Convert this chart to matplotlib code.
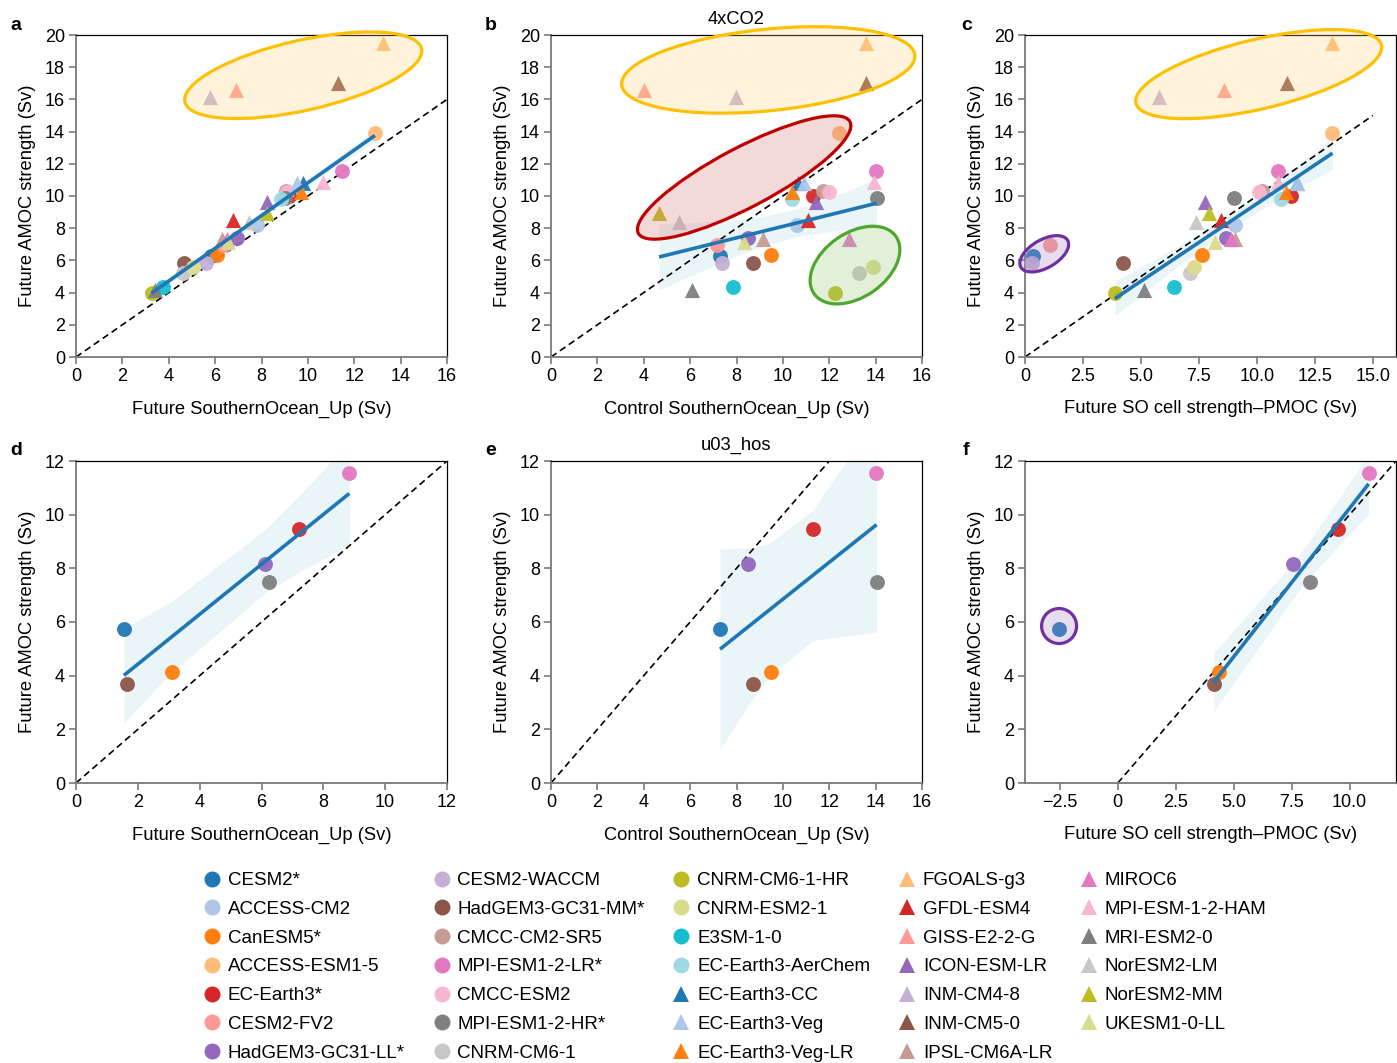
import numpy as np
import matplotlib
matplotlib.use("Agg")
import matplotlib.pyplot as plt
from matplotlib.patches import Ellipse
from matplotlib.lines import Line2D
from matplotlib.transforms import Affine2D
from matplotlib.colors import to_rgba

plt.rcParams['font.family'] = ['Liberation Sans', 'DejaVu Sans']
plt.rcParams['font.size'] = 13

# ---------------- data ----------------
models = ["CESM2*", "ACCESS-CM2", "CanESM5*", "ACCESS-ESM1-5", "EC-Earth3*", "CESM2-FV2",
          "HadGEM3-GC31-LL*", "CESM2-WACCM", "HadGEM3-GC31-MM*", "CMCC-CM2-SR5",
          "MPI-ESM1-2-LR*", "CMCC-ESM2", "MPI-ESM1-2-HR*", "CNRM-CM6-1", "CNRM-CM6-1-HR",
          "CNRM-ESM2-1", "E3SM-1-0", "EC-Earth3-AerChem", "EC-Earth3-CC", "EC-Earth3-Veg",
          "EC-Earth3-Veg-LR", "FGOALS-g3", "GFDL-ESM4", "GISS-E2-2-G", "ICON-ESM-LR",
          "INM-CM4-8", "INM-CM5-0", "IPSL-CM6A-LR", "MIROC6", "MPI-ESM-1-2-HAM",
          "MRI-ESM2-0", "NorESM2-LM", "NorESM2-MM", "UKESM1-0-LL"]
markers = ["o"] * 18 + ["^"] * 16
palette = ["#1f77b4", "#aec7e8", "#ff7f0e", "#ffbb78", "#d62728", "#ff9896", "#9467bd",
           "#c5b0d5", "#8c564b", "#c49c94", "#e377c2", "#f7b6d2", "#7f7f7f", "#c7c7c7",
           "#bcbd22", "#dbdb8d", "#17becf", "#9edae5"]
colors = palette + palette[:16]

# Future AMOC strength (4xCO2), Sv
amoc_4x = [6.27, 8.22, 6.36, 13.94, 10.02, 6.95, 7.42, 5.82, 5.85, 10.30,
           11.57, 10.23, 9.86, 5.22, 3.95, 5.57, 4.37, 9.81, 10.79, 10.82,
           10.25, 19.48, 8.50, 16.58, 9.65, 16.17, 17.04, 7.33, 7.33, 10.87,
           4.16, 8.40, 8.95, 7.16]
# Future SouthernOcean_Up (panel a)
so_up_future = [5.81, 7.82, 6.09, 12.89, 9.18, 6.38, 6.96, 5.61, 4.66, 9.04,
                11.48, 9.10, 9.01, 4.60, 3.26, 5.03, 3.74, 8.83, 9.80, 9.52,
                9.70, 13.22, 6.78, 6.90, 8.22, 5.78, 11.28, 6.28, 6.53, 10.66,
                3.40, 7.47, 8.24, 6.57]
# Control SouthernOcean_Up (panel b)
so_up_control = [7.29, 10.59, 9.49, 12.42, 11.28, 7.14, 8.51, 7.36, 8.72, 11.71,
                 14.00, 12.00, 14.04, 13.30, 12.25, 13.87, 7.83, 10.38, 10.67, 10.90,
                 10.41, 13.58, 11.07, 4.02, 11.45, 7.98, 13.60, 9.13, 12.86, 13.94,
                 6.08, 5.53, 4.66, 8.32]
# Future SO cell strength - PMOC (panel c)
so_pmoc_future = [0.33, 9.05, 7.62, 13.26, 11.47, 1.08, 8.66, 0.29, 4.24, 10.23,
                  10.89, 10.09, 9.01, 7.11, 3.88, 7.30, 6.42, 11.02, 11.75, 11.72,
                  11.24, 13.26, 8.45, 8.58, 7.77, 5.78, 11.28, 9.05, 8.87, 10.92,
                  5.14, 7.36, 7.95, 8.19]

# u03_hos experiment
hos_models = ["CESM2*", "CanESM5*", "EC-Earth3*", "HadGEM3-GC31-LL*", "HadGEM3-GC31-MM*",
              "MPI-ESM1-2-LR*", "MPI-ESM1-2-HR*"]
amoc_hos = [5.74, 4.15, 9.47, 8.16, 3.68, 11.54, 7.50]
so_up_future_hos = [1.55, 3.09, 7.21, 6.11, 1.64, 8.84, 6.25]
so_up_control_hos = [7.29, 9.49, 11.28, 8.51, 8.72, 14.00, 14.04]
so_pmoc_future_hos = [-2.53, 4.37, 9.50, 7.56, 4.14, 10.82, 8.31]

# models left out of each regression (highlighted by ellipses)
outliers_inm = ["FGOALS-g3", "GISS-E2-2-G", "INM-CM4-8", "INM-CM5-0"]
excl_a = outliers_inm
excl_b = outliers_inm
excl_c = outliers_inm + ["CESM2*", "CESM2-WACCM", "CESM2-FV2"]
excl_d = []
excl_e = []
excl_f = ["CESM2*"]

# ---------------- helpers ----------------
W, H = 1397, 1063
fig = plt.figure(figsize=(W / 100, H / 100), dpi=100)
LABEL_FS = 13.2
TICK_FS = 13


def make_ax(left, top):
    return fig.add_axes([left / W, 1 - (top + 322) / H, 371 / W, 322 / H])


def style(ax):
    for s in ["left", "bottom"]:
        ax.spines[s].set_color("#7a7a7a")
        ax.spines[s].set_linewidth(1.3)
    for s in ["top", "right"]:
        ax.spines[s].set_color("black")
        ax.spines[s].set_linewidth(0.9)
    ax.tick_params(direction="out", length=5, width=1.2, color="#7a7a7a",
                   labelsize=TICK_FS, pad=3)


def tval(df):
    z = 1.959964
    return (z + (z**3 + z) / (4 * df) + (5 * z**5 + 16 * z**3 + 3 * z) / (96 * df**2)
            + (3 * z**7 + 19 * z**5 + 17 * z**3 - 15 * z) / (384 * df**3))


def regress(ax, x, y, names, excl):
    x = np.asarray(x, float)
    y = np.asarray(y, float)
    keep = np.array([n not in excl for n in names])
    xs, ys = x[keep], y[keep]
    n = len(xs)
    b1, b0 = np.polyfit(xs, ys, 1)
    order = np.argsort(xs)
    xg = xs[order]
    yg = b0 + b1 * xg
    resid = ys - (b0 + b1 * xs)
    s = np.sqrt(np.sum(resid**2) / (n - 2))
    sxx = np.sum((xs - xs.mean())**2)
    se = s * np.sqrt(1 / n + (xg - xs.mean())**2 / sxx)
    t = tval(n - 2)
    ax.fill_between(xg, yg - t * se, yg + t * se, color="#add8e6", alpha=0.25,
                    lw=0, zorder=1)
    ax.plot(xg, yg, color="#1f77b4", lw=2.6, zorder=5, solid_capstyle="butt")


def scatter(ax, x, y, names):
    for xi, yi, nm in zip(x, y, names):
        i = models.index(nm)
        ax.scatter(xi, yi, marker=markers[i], s=115 if markers[i] == "o" else 120,
                   color=colors[i], alpha=0.95, lw=0, zorder=3)


def ellipse(ax, cx, cy, w, h, angle, edge, face):
    x0, x1 = ax.get_xlim()
    y0, y1 = ax.get_ylim()
    pos = ax.get_position()
    k = (pos.height * H / (y1 - y0)) / (pos.width * W / (x1 - x0))
    tr = Affine2D().scale(1, 1 / k) + ax.transData
    e = Ellipse((cx, cy * k), w, h, angle=angle, transform=tr,
                facecolor=to_rgba(face, 0.25), edgecolor=edge, lw=2.3,
                zorder=4, clip_on=False)
    ax.add_patch(e)


def oneone(ax, x_end):
    ax.plot([0, x_end], [0, x_end], ls=(0, (4, 2.5)), color="black", lw=1.2, zorder=2)


# ---------------- axes ----------------
ax_a = make_ax(76, 35)
ax_b = make_ax(551, 35)
ax_c = make_ax(1025, 35)
ax_d = make_ax(76, 461)
ax_e = make_ax(551, 461)
ax_f = make_ax(1025, 461)

top_x = [so_up_future, so_up_control, so_pmoc_future]
top_ex = [excl_a, excl_b, excl_c]
top_xl = ["Future SouthernOcean_Up (Sv)", "Control SouthernOcean_Up (Sv)",
          "Future SO cell strength\u2013PMOC (Sv)"]
for ax, xv, ex, xl in zip([ax_a, ax_b, ax_c], top_x, top_ex, top_xl):
    ax.set_xlim(0, 16)
    ax.set_ylim(0, 20)
    ax.set_yticks(np.arange(0, 21, 2))
    style(ax)
    oneone(ax, 15 if ax is ax_c else 16)
    scatter(ax, xv, amoc_4x, models)
    regress(ax, xv, amoc_4x, models, ex)
    ax.set_xlabel(xl, fontsize=LABEL_FS, labelpad=11)
    ax.set_ylabel("Future AMOC strength (Sv)", fontsize=LABEL_FS, labelpad=6)

ax_a.set_xticks(np.arange(0, 17, 2))
ax_b.set_xticks(np.arange(0, 17, 2))
ax_c.set_xticks([0, 2.5, 5, 7.5, 10, 12.5, 15])
ax_c.set_xticklabels(["0", "2.5", "5.0", "7.5", "10.0", "12.5", "15.0"])
ax_b.set_title("4xCO2", fontsize=LABEL_FS, pad=8)

ellipse(ax_a, 9.8, 17.5, 10.46, 3.02, 12.7, "#ffc000", "#ffd670")
ellipse(ax_b, 9.37, 17.83, 12.71, 3.52, 5.8, "#ffc000", "#ffd670")
ellipse(ax_b, 8.33, 11.15, 10.32, 2.57, 27.8, "#c00000", "#d46a6a")
ellipse(ax_b, 13.11, 5.71, 4.31, 2.76, 35, "#4ea72e", "#8cc46a")
ellipse(ax_c, 10.08, 17.57, 10.88, 3.0, 13.3, "#ffc000", "#ffd670")
ellipse(ax_c, 0.83, 6.41, 2.33, 1.21, 30, "#7030a0", "#9f7fbf")

bot_x = [so_up_future_hos, so_up_control_hos, so_pmoc_future_hos]
bot_ex = [excl_d, excl_e, excl_f]
for ax, xv, ex, xl in zip([ax_d, ax_e, ax_f], bot_x, bot_ex, top_xl):
    ax.set_ylim(0, 12)
    ax.set_yticks(np.arange(0, 13, 2))
    style(ax)
    ax.set_xlabel(xl, fontsize=LABEL_FS, labelpad=11)
    ax.set_ylabel("Future AMOC strength (Sv)", fontsize=LABEL_FS, labelpad=6)

ax_d.set_xlim(0, 12)
ax_d.set_xticks(np.arange(0, 13, 2))
ax_e.set_xlim(0, 16)
ax_e.set_xticks(np.arange(0, 17, 2))
ax_f.set_xlim(-4, 12)
ax_f.set_xticks([-2.5, 0, 2.5, 5, 7.5, 10])
ax_f.set_xticklabels(["\u22122.5", "0", "2.5", "5.0", "7.5", "10.0"])
ax_e.set_title("u03_hos", fontsize=LABEL_FS, pad=8)

for ax, xv, ex in zip([ax_d, ax_e, ax_f], bot_x, bot_ex):
    oneone(ax, 16)
    scatter(ax, xv, amoc_hos, hos_models)
    regress(ax, xv, amoc_hos, hos_models, ex)
    ax.set_ylim(0, 12)

ellipse(ax_f, -2.53, 5.85, 1.51, 1.51, 0, "#7030a0", "#9f7fbf")

# ---------------- panel letters ----------------
for lab, (px, py) in zip("abcdef", [(16, 25), (491, 25), (967, 25),
                                     (16, 451), (491, 451), (966, 451)]):
    fig.text(px / W, 1 - py / H, lab, fontsize=14, fontweight="bold",
             ha="center", va="center")

# ---------------- legend ----------------
handles = [Line2D([], [], marker=m, color=c, linestyle="none", markersize=11.5,
                  markeredgewidth=0)
           for m, c in zip(markers, colors)]
fig.legend(handles, models, ncol=5, loc="upper left",
           bbox_to_anchor=(202.5 / W, 1 - 872 / H), frameon=False, fontsize=13.5,
           handlelength=1.0, handletextpad=0.35, columnspacing=1.45,
           labelspacing=0.62, borderpad=0, borderaxespad=0)

fig.savefig("out.png", dpi=100)
